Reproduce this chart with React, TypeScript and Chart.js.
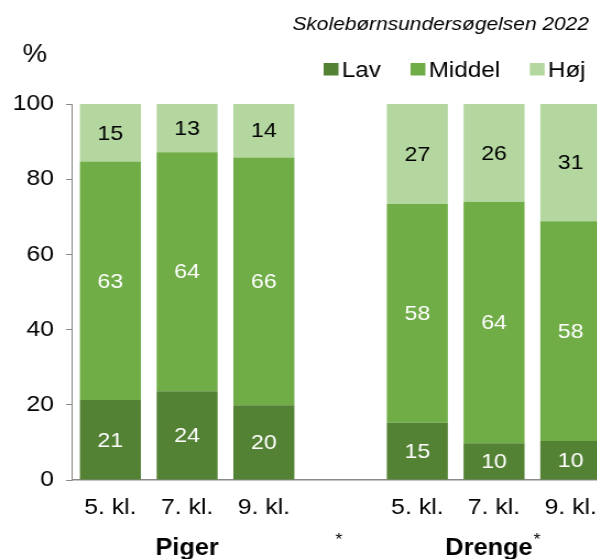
import React, { useEffect, useRef } from "react";
import { Chart, registerables } from "chart.js";

Chart.register(...registerables);

// ---- data ----
const categories = ["5. kl.", "7. kl.", "9. kl.", "", "5. kl.", "7. kl.", "9. kl."];
const groupLabels = ["Piger", "Drenge"];
const seriesNames = ["Lav", "Middel", "Høj"];
const lavValues = [21.3, 23.6, 19.9, null, 15.2, 9.8, 10.4];
const middelValues = [63.4, 63.6, 65.9, null, 58.2, 64.2, 58.4];
const hojValues = [15.3, 12.8, 14.2, null, 26.6, 26.0, 31.2];
const yMin = 0;
const yMax = 100;
const yStep = 20;
const titleText = "Skolebørnsundersøgelsen 2022";
const unitText = "%";

// ---- style ----
const FF = "'Liberation Sans', Arial, Helvetica, sans-serif";
const colors = ["#548235", "#70AD47", "#B4D7A0"];
const labelColors = ["#ffffff", "#ffffff", "#000000"];
const AXIS = "#898989";
const STRETCH = 1.1;
const CW = 556;
const CH = 559;

const decorPlugin = {
  id: "decor",
  afterDatasetsDraw(chart: any) {
    const ctx = chart.ctx;
    ctx.save();
    ctx.font = `21px ${FF}`;
    ctx.textAlign = "center";
    ctx.textBaseline = "middle";
    chart.data.datasets.forEach((ds: any, di: number) => {
      const meta = chart.getDatasetMeta(di);
      meta.data.forEach((el: any, i: number) => {
        const v = ds.data[i];
        if (v === null || v === undefined) return;
        const p = el.getProps(["x", "y", "base"], true);
        ctx.fillStyle = labelColors[di];
        ctx.fillText(String(Math.round(v)), p.x, (p.y + p.base) / 2 + 1);
      });
    });
    ctx.restore();
  },
  afterDraw(chart: any) {
    const ctx = chart.ctx;
    const xs = chart.scales.x;
    ctx.save();
    // title
    ctx.fillStyle = "#000";
    ctx.font = `italic 19px ${FF}`;
    ctx.textAlign = "right";
    ctx.textBaseline = "alphabetic";
    ctx.fillText(titleText, 535, 30);
    // unit
    ctx.font = `25px ${FF}`;
    ctx.textAlign = "left";
    ctx.fillText(unitText, 20.5, 62);
    // legend (right aligned)
    ctx.font = `22px ${FF}`;
    let right = 532;
    for (let i = seriesNames.length - 1; i >= 0; i--) {
      const w = ctx.measureText(seriesNames[i]).width;
      const tx = right - w;
      const bx = tx - 3 - 13.5;
      ctx.fillStyle = colors[i];
      ctx.fillRect(bx, 63, 13.5, 12.5);
      ctx.fillStyle = "#000";
      ctx.fillText(seriesNames[i], tx, 76.5);
      right = bx - 27;
    }
    // group labels
    const baseY = 555;
    ctx.font = `bold 23px ${FF}`;
    ctx.textAlign = "center";
    ctx.fillText(groupLabels[0], xs.getPixelForValue(1), baseY);
    // Drenge + superscript asterisk centred on category 5
    const cx = xs.getPixelForValue(5);
    const w1 = ctx.measureText(groupLabels[1]).width;
    ctx.font = `16px ${FF}`;
    const w2 = ctx.measureText("*").width;
    const start = cx - (w1 + w2) / 2 - 1.5;
    ctx.textAlign = "left";
    ctx.font = `bold 23px ${FF}`;
    ctx.fillText(groupLabels[1], start, baseY);
    ctx.font = `16px ${FF}`;
    ctx.fillText("*", start + w1 + 1, 545);
    // lone asterisk at the gap category
    ctx.textAlign = "center";
    ctx.fillText("*", xs.getPixelForValue(3) - 1.5, 545);
    ctx.restore();
  },
};

export default function App() {
  const ref = useRef<HTMLCanvasElement>(null);
  useEffect(() => {
    if (!ref.current) return;
    const chart = new Chart(ref.current, {
      type: "bar",
      data: {
        labels: categories,
        datasets: [
          { label: seriesNames[0], data: lavValues, backgroundColor: colors[0] },
          { label: seriesNames[1], data: middelValues, backgroundColor: colors[1] },
          { label: seriesNames[2], data: hojValues, backgroundColor: colors[2] },
        ] as any,
      },
      options: {
        responsive: false,
        animation: false,
        devicePixelRatio: 1,
        datasets: { bar: { barPercentage: 1, categoryPercentage: 0.795 } },
        layout: { padding: { left: 10, right: 2.6, top: 104, bottom: 39 } },
        plugins: {
          legend: { display: false },
          tooltip: { enabled: false },
          title: { display: false },
        },
        scales: {
          x: {
            stacked: true,
            grid: { display: false, drawTicks: false },
            border: { display: true, color: AXIS, width: 1.5 },
            ticks: {
              color: "#000",
              font: { family: FF, size: 22.5 },
              padding: 14,
              maxRotation: 0,
              autoSkip: false,
            },
            afterFit: (s: any) => {
              s.height = 40;
              s.paddingLeft = 0;
              s.paddingRight = 0;
            },
          },
          y: {
            stacked: true,
            min: yMin,
            max: yMax,
            ticks: {
              stepSize: yStep,
              color: "#000",
              font: { family: FF, size: 22.5 },
              padding: 11,
            },
            grid: {
              drawOnChartArea: false,
              drawTicks: true,
              tickLength: 5.5,
              color: AXIS,
            },
            border: { display: true, color: AXIS, width: 1 },
            afterFit: (s: any) => {
              s.width = 55.45;
              s.paddingTop = 0;
              s.paddingBottom = 0;
            },
          },
        },
      } as any,
      plugins: [decorPlugin],
    });
    return () => chart.destroy();
  }, []);

  return (
    <div
      style={{
        position: "fixed",
        left: 0,
        top: 0,
        width: 597,
        height: 559,
        overflow: "hidden",
        background: "#fff",
      }}
    >
      <canvas
        ref={ref}
        width={CW}
        height={CH}
        style={{ display: "block", width: `${CW * STRETCH}px`, height: `${CH}px` }}
      />
    </div>
  );
}
